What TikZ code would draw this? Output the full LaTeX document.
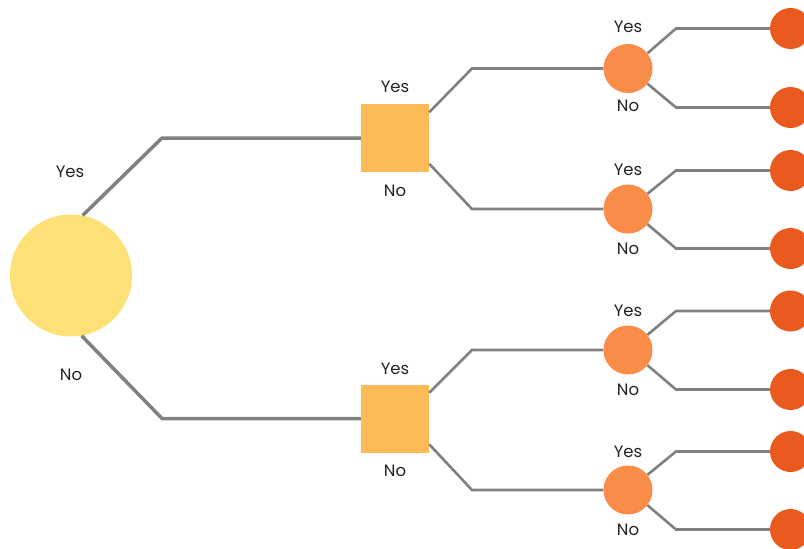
\documentclass[tikz,border=0pt]{standalone}
\usepackage{fontspec}
\setmainfont{Poppins}
\usepackage{tikz}
\usetikzlibrary{positioning}
\definecolor{rootfill}{RGB}{253,224,118}
\definecolor{boxfill}{RGB}{253,187,88}
\definecolor{chancefill}{RGB}{250,140,74}
\definecolor{leaffill}{RGB}{234,90,30}
\definecolor{wiregray}{RGB}{128,128,128}
\definecolor{labelgray}{RGB}{35,35,35}

\begin{document}
\begin{tikzpicture}[x=1pt, y=-1pt,
	rootnode/.style={circle, fill=rootfill, minimum size=122pt, inner sep=0pt},
	boxnode/.style={rectangle, fill=boxfill, minimum size=68pt, inner sep=0pt},
	chancenode/.style={circle, fill=chancefill, minimum size=49pt, inner sep=0pt},
	leafnode/.style={circle, fill=leaffill, minimum size=41pt, inner sep=0pt},
	wire/.style={draw=wiregray, line width=3.5pt},
	thinwire/.style={draw=wiregray, line width=2.6pt},
	answer/.style={text=labelgray, inner sep=0pt, font=\fontsize{16.5}{17}\selectfont}]
			\useasboundingbox (0,0) rectangle (804,549);
			% Paths, nodes and wires:
			\node[rootnode](R) at (71, 275.5){};
			\node[boxnode](Q1) at (395, 138){};
			\node[boxnode](Q2) at (395, 418.5){};
			\node[chancenode](C1) at (628, 68.5){};
			\node[chancenode](C2) at (628, 209){};
			\node[chancenode](C3) at (628, 350){};
			\node[chancenode](C4) at (628, 490){};
			\node[leafnode](L1) at (790.5, 28.5){};
			\node[leafnode](L2) at (790.5, 107.5){};
			\node[leafnode](L3) at (790.5, 170.5){};
			\node[leafnode](L4) at (790.5, 248.5){};
			\node[leafnode](L5) at (790.5, 311){};
			\node[leafnode](L6) at (790.5, 389.5){};
			\node[leafnode](L7) at (790.5, 451.5){};
			\node[leafnode](L8) at (790.5, 529.5){};
			% bends
			\coordinate (B1) at (162, 138);
			\coordinate (B2) at (162, 418.5);
			\coordinate (B3) at (472, 68.5);
			\coordinate (B4) at (472, 209);
			\coordinate (B5) at (472, 350);
			\coordinate (B6) at (472, 490);
			\draw[wire] (R.79) -- (B1) -- (Q1.west);
			\draw[wire] (R.-80) -- (B2) -- (Q2.west);
			\draw[thinwire] (Q1.37) -- (B3) -- (C1.west);
			\draw[thinwire] (Q1.-37) -- (B4) -- (C2.west);
			\draw[thinwire] (Q2.37) -- (B5) -- (C3.west);
			\draw[thinwire] (Q2.-37) -- (B6) -- (C4.west);
			\draw[thinwire] (C1.38) -- (676, 28.5) -- (L1.west);
			\draw[thinwire] (C1.-38) -- (676, 107.5) -- (L2.west);
			\draw[thinwire] (C2.38) -- (676, 170.5) -- (L3.west);
			\draw[thinwire] (C2.-38) -- (676, 248.5) -- (L4.west);
			\draw[thinwire] (C3.38) -- (676, 311) -- (L5.west);
			\draw[thinwire] (C3.-38) -- (676, 389.5) -- (L6.west);
			\draw[thinwire] (C4.38) -- (676, 451.5) -- (L7.west);
			\draw[thinwire] (C4.-38) -- (676, 529.5) -- (L8.west);
			% labels
			\node[answer](RY) at (70, 172){Yes};
			\node[answer](RN) at (71, 375){No};
			\node[answer](Q1Y) at (395, 87){Yes};
			\node[answer](Q1N) at (395, 191){No};
			\node[answer](Q2Y) at (395, 369){Yes};
			\node[answer](Q2N) at (395, 471){No};
			\node[answer](C1Y) at (628, 27){Yes};
			\node[answer](C1N) at (628, 106){No};
			\node[answer](C2Y) at (628, 170){Yes};
			\node[answer](C2N) at (628, 249){No};
			\node[answer](C3Y) at (628, 311){Yes};
			\node[answer](C3N) at (628, 390){No};
			\node[answer](C4Y) at (628, 452){Yes};
			\node[answer](C4N) at (628, 530){No};
		\end{tikzpicture}
\end{document}
